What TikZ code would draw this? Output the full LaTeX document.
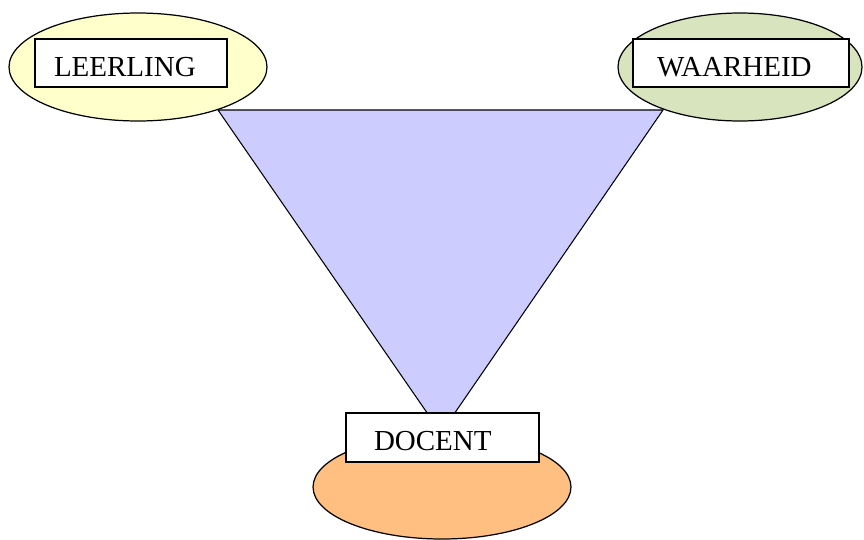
\documentclass[tikz,border=0pt]{standalone}
\usepackage{fontspec}
\setmainfont{Liberation Serif}
\usepackage{xcolor}
\usepackage{tikz}
\usetikzlibrary{calc}
\usetikzlibrary{shapes.geometric}
\definecolor{leerlinggeel}{HTML}{FFFFCC}
\definecolor{waarheidgroen}{HTML}{D7E4BD}
\definecolor{docentoranje}{HTML}{FFBF80}
\definecolor{driehoekblauw}{HTML}{CCCCFF}
\tikzset{
  veld/.style={draw=black, line width=.7pt, ellipse, inner sep=0,
    minimum width=5.16cm, minimum height=2.16cm},
  woordbox/.style={draw=black, line width=.8pt, fill=white, rectangle, align=left,
    minimum height=.96cm, text height=.53cm, text depth=0cm,
    font=\fontsize{16.5}{19}\selectfont}
}

\begin{document}
\begin{tikzpicture}[x=0.02cm, y=0.02cm]
\useasboundingbox (0,0) rectangle (864,539);
\node[veld, fill=leerlinggeel] (leerlingveld) at (138,472) {};
\node[veld, fill=waarheidgroen, minimum width=4.88cm] (waarheidveld) at (740,472) {};
\node[veld, fill=docentoranje, minimum height=2.08cm] (docentveld) at (442,52) {};
\coordinate (hoekL) at (218,429);
\coordinate (hoekR) at (663,429);
\coordinate (hoekO) at (441,106);
\filldraw[fill=driehoekblauw, draw=black, line width=.6pt, line join=miter] (hoekL)--(hoekR)--(hoekO)--cycle;
\node[woordbox, text width=3.08cm, inner xsep=.38cm] (leerling) at (131,476) {LEERLING};
\node[woordbox, text width=3.36cm, inner xsep=.48cm] (waarheid) at (741,476) {WAARHEID};
\node[woordbox, text width=2.74cm, inner xsep=.56cm, minimum height=.98cm] (docent) at (442.5,101.5) {DOCENT};
\end{tikzpicture}
\end{document}
